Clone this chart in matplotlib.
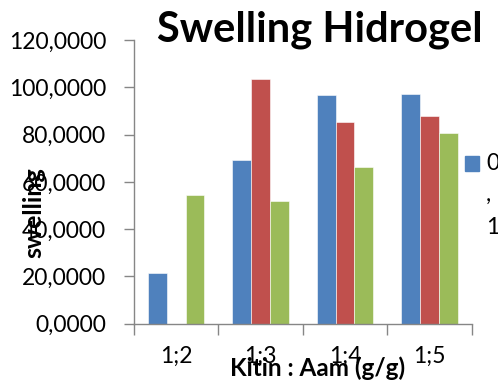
import numpy as np
import matplotlib.pyplot as plt
from matplotlib.ticker import FuncFormatter, FixedLocator
from matplotlib.patches import Rectangle

plt.rcParams['font.family'] = ['Lato', 'DejaVu Sans']

# Rasio kitin : AAm dan nilai swelling tiap seri
kategori = ['1;2', '1;3', '1;4', '1;5']
seri_biru = [21.4, 69.4, 96.9, 97.0]
seri_merah = [0.0, 103.6, 85.3, 88.0]
seri_hijau = [54.5, 52.1, 66.1, 80.7]
warna = ['#4F81BD', '#C0504D', '#9BBB59']

W, H = 498, 383
fig = plt.figure(figsize=(W / 100, H / 100), dpi=100)
ax = fig.add_axes([134 / W, (H - 323.7) / H, (471.7 - 134) / W, (323.7 - 40) / H])

x = np.arange(len(kategori))
lebar = 1 / 4.5
for i, (nilai, c) in enumerate(zip([seri_biru, seri_merah, seri_hijau], warna)):
    ax.bar(x + (i - 1) * lebar, nilai, lebar, color=c, edgecolor='white',
           linewidth=0.4, zorder=2)

ax.set_xlim(-0.5, len(kategori) - 0.5)
ax.set_ylim(0, 120)
ax.yaxis.set_major_locator(FixedLocator(np.arange(0, 121, 20)))
ax.yaxis.set_major_formatter(FuncFormatter(lambda v, p: f'{v:.4f}'.replace('.', ',')))

# tick di batas kategori, label di tengah
ax.set_xticks(np.arange(-0.5, len(kategori), 1))
ax.set_xticklabels([])
ax.set_xticks(x, minor=True)
ax.set_xticklabels(kategori, minor=True)
ax.tick_params(axis='x', which='major', length=8, color='#868686', width=1)
ax.tick_params(axis='x', which='minor', length=0, pad=16, labelsize=16.5)
ax.tick_params(axis='y', length=7, color='#868686', width=1, labelsize=16.5, pad=13)

for s in ['top', 'right']:
    ax.spines[s].set_visible(False)
for s in ['left', 'bottom']:
    ax.spines[s].set_color('#868686')
    ax.spines[s].set_linewidth(1)

fig.text(320 / W, 1 - 30 / H, 'Swelling Hidrogel', ha='center', va='center',
         fontsize=30, fontweight='bold')
fig.text(34 / W, 1 - 213 / H, 'swelling', ha='center', va='center', rotation=90,
         fontsize=18, fontweight='bold')
fig.text(318 / W, 1 - 368 / H, 'Kitin : Aam (g/g)', ha='center', va='center',
         fontsize=17.5, fontweight='bold')

# legenda yang terpotong di tepi kanan
fig.patches.append(Rectangle((465 / W, 1 - 171 / H), 14 / W, 15 / H,
                             transform=fig.transFigure, color=warna[0]))
for teks, yy in zip(['0', ',', '1'], [163, 195, 228]):
    fig.text(486 / W, 1 - yy / H, teks, ha='left', va='center', fontsize=16.5)

fig.savefig('out.png', dpi=100)
